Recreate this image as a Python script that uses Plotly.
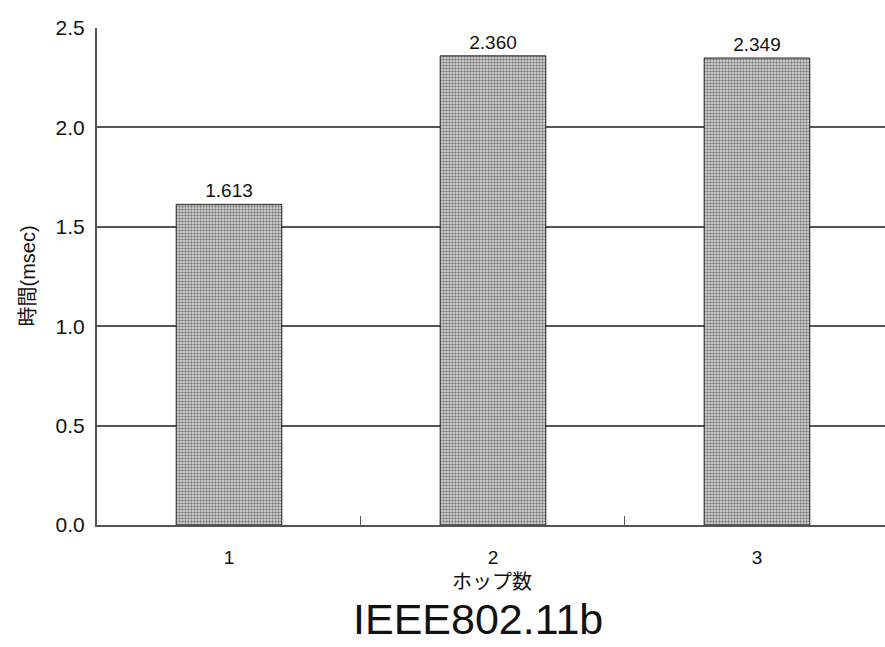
import plotly.graph_objects as go

hops = ["1", "2", "3"]
times = [1.613, 2.360, 2.349]
value_labels = ["1.613", "2.360", "2.349"]
y_ticks = [0.0, 0.5, 1.0, 1.5, 2.0, 2.5]
y_tick_text = ["0.0", "0.5", "1.0", "1.5", "2.0", "2.5"]

FONT = "Liberation Sans, Arial, sans-serif"
CJK = "Liberation Sans, Noto Sans CJK JP, sans-serif"

fig = go.Figure()
fig.add_trace(go.Bar(
    x=hops, y=times, width=0.4,
    marker=dict(
        color="#d0d0d0",
        line=dict(color="#222", width=1),
        pattern=dict(shape=".", size=3, solidity=0.5, fgcolor="#7a7a7a", bgcolor="#e2e2e2", fillmode="replace"),
    ),
    text=value_labels, textposition="outside", cliponaxis=False,
    textfont=dict(family=FONT, size=19, color="#111"),
    showlegend=False,
))

fig.update_layout(
    width=885, height=647,
    margin=dict(l=97, r=0, t=28, b=122),
    paper_bgcolor="white", plot_bgcolor="white",
    bargap=0.6,
    xaxis=dict(
        type="category", range=[-0.5, 2.485],
        tickson="boundaries", ticks="inside", ticklen=9, tickcolor="#555", tickwidth=1,
        showline=True, linecolor="#555", linewidth=2,
        showgrid=False,
        tickfont=dict(family=FONT, size=19, color="#111"),
        ticklabelstandoff=14,
    ),
    yaxis=dict(
        range=[0, 2.5001], tickvals=y_ticks, ticktext=y_tick_text,
        showline=True, linecolor="#555", linewidth=2,
        showgrid=True, gridcolor="#555", gridwidth=1.5,
        ticks="", tickfont=dict(family=FONT, size=21, color="#111"),
        ticklabelstandoff=6, zeroline=False,
    ),
    annotations=[
        dict(text="時間(msec)", xref="paper", yref="paper", x=-97/788 + 27/788, y=0.5,
             xanchor="center", yanchor="middle", textangle=-90, showarrow=False,
             font=dict(family=CJK, size=20, color="#111")),
        dict(text="ホップ数", xref="paper", yref="paper", x=(492-97)/788, y=-(582-525)/497,
             xanchor="center", yanchor="middle", showarrow=False,
             font=dict(family=CJK, size=20, color="#111")),
        dict(text="IEEE802.11b", xref="paper", yref="paper", x=(478-97)/788, y=-(619-525)/497,
             xanchor="center", yanchor="middle", showarrow=False,
             font=dict(family=FONT, size=43, color="#111")),
    ],
)

fig.write_html("out.html")
